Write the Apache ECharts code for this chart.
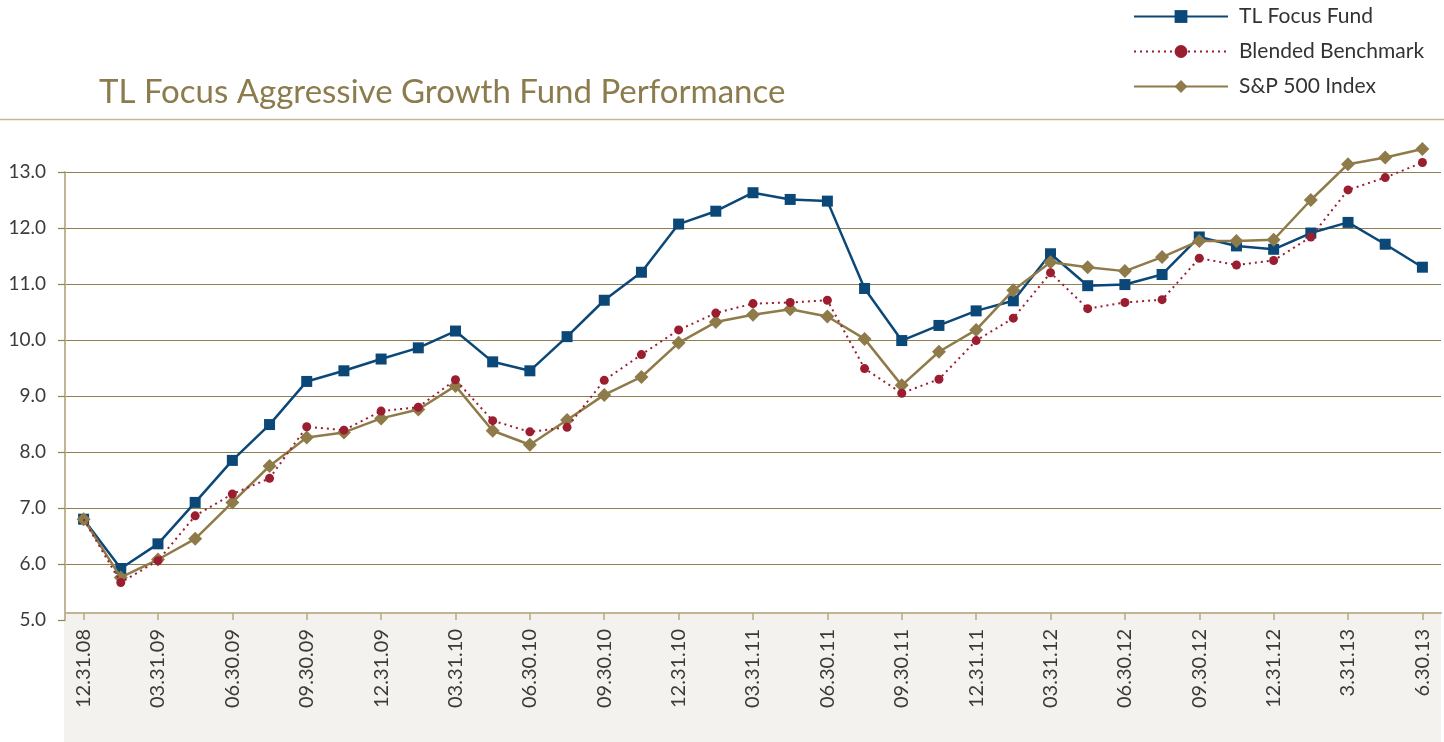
<!DOCTYPE html>
<html>
<head>
<meta charset="utf-8">
<script src="https://cdn.jsdelivr.net/npm/echarts@6/dist/echarts.min.js"></script>
<style>
html,body{margin:0;padding:0;background:#fff;}
#chart{width:1444px;height:742px;}
</style>
</head>
<body>
<div id="chart"></div>
<script>
const categories = ['12.31.08','','03.31.09','','06.30.09','','09.30.09','','12.31.09','','03.31.10','','06.30.10','','09.30.10','','12.31.10','','03.31.11','','06.30.11','','09.30.11','','12.31.11','','03.31.12','','06.30.12','','09.30.12','','12.31.12','','3.31.13','','6.30.13'];
const focusFund = [6.80,5.92,6.36,7.10,7.85,8.49,9.26,9.45,9.66,9.86,10.16,9.61,9.45,10.06,10.71,11.21,12.07,12.30,12.63,12.51,12.48,10.92,9.99,10.26,10.52,10.70,11.54,10.97,10.99,11.17,11.84,11.68,11.62,11.91,12.10,11.71,11.30];
const blended = [6.80,5.67,6.06,6.86,7.25,7.53,8.45,8.39,8.73,8.80,9.29,8.56,8.36,8.44,9.28,9.74,10.18,10.48,10.65,10.67,10.71,9.49,9.05,9.30,9.99,10.39,11.20,10.56,10.67,10.72,11.46,11.34,11.42,11.84,12.68,12.90,13.17];
const sp500 = [6.80,5.76,6.08,6.45,7.10,7.75,8.26,8.35,8.60,8.76,9.18,8.38,8.13,8.57,9.02,9.34,9.95,10.32,10.45,10.55,10.42,10.02,9.19,9.79,10.18,10.89,11.39,11.30,11.23,11.48,11.77,11.77,11.79,12.50,13.14,13.26,13.41];
const yTicks = {min:5, max:13, step:1};

const FONT = 'Lato, "Noto Sans", sans-serif';
const chart = echarts.init(document.getElementById('chart'));
chart.setOption({
  animation:false,
  backgroundColor:'#ffffff',
  title:{
    text:'TL Focus Aggressive Growth Fund Performance',
    left:94, top:71,
    textStyle:{fontFamily:FONT, fontSize:33, fontWeight:'normal', color:'#8c7b4c'}
  },
  legend:{
    orient:'vertical', left:1128, top:1,
    itemWidth:94, itemHeight:16, itemGap:14,
    data:['TL Focus Fund','Blended Benchmark','S&P 500 Index'],
    textStyle:{fontFamily:FONT, fontSize:21, color:'#333333', padding:[0,0,0,6]}
  },
  graphic:[
    {type:'line', silent:true, z:-1, shape:{x1:0,y1:119.5,x2:1444,y2:119.5}, style:{stroke:'#c4b899', lineWidth:1.5}},
    {type:'rect', silent:true, z:-10, shape:{x:64,y:613,width:1377,height:129}, style:{fill:'#f3f2ee'}}
  ],
  grid:{left:65, width:1376, top:172, bottom:122},
  xAxis:{
    type:'category', data:categories, boundaryGap:true, offset:-7,
    axisLine:{lineStyle:{color:'#c2b594', width:2}},
    axisTick:{show:true, interval:1, alignWithLabel:true, length:7, lineStyle:{color:'#b8a97f', width:1.5}},
    axisLabel:{interval:1, rotate:90, margin:16, fontFamily:FONT, fontSize:20, color:'#3a3a3a'},
    splitLine:{show:false}
  },
  yAxis:{
    type:'value', min:yTicks.min, max:yTicks.max, interval:yTicks.step,
    axisLine:{show:true, lineStyle:{color:'#c2b594', width:2}},
    axisTick:{show:true, length:7, lineStyle:{color:'#917f50', width:1.2}},
    axisLabel:{margin:19, fontFamily:FONT, fontSize:19, color:'#3a3a3a', formatter:v=>v.toFixed(1)},
    splitLine:{show:true, showMinLine:false, lineStyle:{color:'#917f50', width:1.2}}
  },
  series:[
    {name:'TL Focus Fund', type:'line', data:focusFund, symbol:'rect', symbolSize:11, clip:false,
     lineStyle:{color:'#0b4878', width:2.5}, itemStyle:{color:'#0b4878'}, z:2},
    {name:'S&P 500 Index', type:'line', data:sp500, symbol:'diamond', symbolSize:14, clip:false,
     lineStyle:{color:'#8f7b4a', width:2.5}, itemStyle:{color:'#8f7b4a'}, z:3},
    {name:'Blended Benchmark', type:'line', data:blended.map((v,i)=> i===0 ? {value:v, symbol:'none'} : v), symbol:'circle', symbolSize:9, clip:false,
     lineStyle:{color:'#9b1d30', width:2, type:[2,4]}, itemStyle:{color:'#9b1d30'}, z:4}
  ]
});
</script>
</body>
</html>
